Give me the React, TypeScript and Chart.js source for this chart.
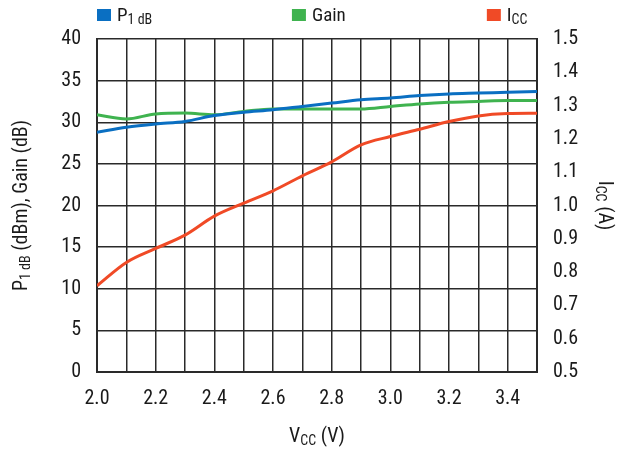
import React, { useEffect, useRef } from "react";
import { Chart, registerables } from "chart.js";

Chart.register(...registerables);

const VCC = [2.0, 2.1, 2.2, 2.3, 2.4, 2.5, 2.6, 2.7, 2.8, 2.9, 3.0, 3.1, 3.2, 3.3, 3.4, 3.5];
const P1DB = [28.8, 29.4, 29.8, 30.1, 30.8, 31.2, 31.5, 31.9, 32.3, 32.7, 32.9, 33.2, 33.4, 33.5, 33.6, 33.7];
const GAIN = [30.9, 30.4, 31.0, 31.1, 30.9, 31.3, 31.6, 31.6, 31.6, 31.6, 31.9, 32.2, 32.4, 32.5, 32.6, 32.6];
const ICC = [0.759, 0.829, 0.871, 0.911, 0.968, 1.007, 1.044, 1.089, 1.131, 1.182, 1.207, 1.229, 1.252, 1.269, 1.276, 1.277];

const FONT = '"Liberation Sans Narrow", "Roboto Condensed", "DejaVu Sans Condensed", "Liberation Sans", Arial, sans-serif';
const BLUE = "#0a6fc2";
const GREEN = "#3fb34f";
const RED = "#f04a26";
const TEXT = "#1a1a1a";
const GRID = "#2a2a2a";

type Part = { t: string; sub?: boolean };

function richWidth(ctx: CanvasRenderingContext2D, parts: Part[], size: number) {
  let w = 0;
  for (const p of parts) {
    ctx.font = `${p.sub ? Math.round(size * 0.72) : size}px ${FONT}`;
    w += ctx.measureText(p.t).width;
  }
  return w;
}

function drawRich(ctx: CanvasRenderingContext2D, parts: Part[], x: number, y: number, size: number, align: "left" | "center") {
  const w = richWidth(ctx, parts, size);
  let cx = align === "center" ? x - w / 2 : x;
  ctx.textBaseline = "middle";
  ctx.textAlign = "left";
  ctx.fillStyle = TEXT;
  for (const p of parts) {
    const s = p.sub ? Math.round(size * 0.72) : size;
    ctx.font = `${s}px ${FONT}`;
    ctx.fillText(p.t, cx, p.sub ? y + size * 0.22 : y);
    cx += ctx.measureText(p.t).width;
  }
}

const decorPlugin = {
  id: "decor",
  afterDraw(chart: any) {
    const ctx: CanvasRenderingContext2D = chart.ctx;
    const a = chart.chartArea;
    ctx.save();
    const items: { color: string; parts: Part[] }[] = [
      { color: BLUE, parts: [{ t: "P" }, { t: "1 dB", sub: true }] },
      { color: GREEN, parts: [{ t: "Gain" }] },
      { color: RED, parts: [{ t: "I" }, { t: "CC", sub: true }] },
    ];
    items.forEach((it, i) => {
      const x = a.left + i * (a.right - a.left) * 0.443;
      ctx.fillStyle = it.color;
      ctx.fillRect(x, 9, 14, 12);
      drawRich(ctx, it.parts, x + 20, 16, 19, "left");
    });
    const cy = (a.top + a.bottom) / 2;
    ctx.save();
    ctx.translate(22, cy);
    ctx.rotate(-Math.PI / 2);
    drawRich(ctx, [{ t: "P" }, { t: "1 dB", sub: true }, { t: " (dBm), Gain (dB)" }], 0, 0, 20, "center");
    ctx.restore();
    ctx.save();
    ctx.translate(604, cy);
    ctx.rotate(Math.PI / 2);
    drawRich(ctx, [{ t: "I" }, { t: "CC", sub: true }, { t: " (A)" }], 0, 0, 20, "center");
    ctx.restore();
    drawRich(ctx, [{ t: "V" }, { t: "CC", sub: true }, { t: " (V)" }], (a.left + a.right) / 2, 437, 20, "center");
    ctx.restore();
  },
};

export default function App() {
  const ref = useRef<HTMLCanvasElement>(null);
  useEffect(() => {
    document.body.style.margin = "0";
    const chart = new Chart(ref.current!, {
      type: "line",
      data: {
        datasets: [
          { label: "P1 dB", data: VCC.map((x, i) => ({ x, y: P1DB[i] })), borderColor: BLUE, yAxisID: "y" },
          { label: "Gain", data: VCC.map((x, i) => ({ x, y: GAIN[i] })), borderColor: GREEN, yAxisID: "y" },
          { label: "ICC", data: VCC.map((x, i) => ({ x, y: ICC[i] })), borderColor: RED, yAxisID: "y1" },
        ].map((d) => ({ ...d, borderWidth: 3, pointRadius: 0, fill: false, cubicInterpolationMode: "monotone" as const })),
      },
      options: {
        animation: false,
        responsive: false,
        layout: { padding: { top: 39, left: 0, right: 0, bottom: 0 } },
        plugins: { legend: { display: false }, tooltip: { enabled: false } },
        scales: {
          x: {
            type: "linear",
            min: 2.0,
            max: 3.5,
            afterFit: (s: any) => { s.height = 79; },
            ticks: {
              stepSize: 0.1,
              padding: 15,
              color: TEXT,
              font: { family: FONT, size: 20 },
              maxRotation: 0,
              autoSkip: false,
              callback: (v: any) => (Math.round(Number(v) * 10) % 2 === 0 ? Number(v).toFixed(1) : ""),
            },
            grid: { color: GRID, lineWidth: 1.5, drawTicks: false },
            border: { color: GRID, width: 2 },
          },
          y: {
            position: "left",
            min: 0,
            max: 40,
            afterFit: (s: any) => { s.width = 97; },
            ticks: { stepSize: 5, padding: 16, color: TEXT, font: { family: FONT, size: 20 } },
            grid: { color: GRID, lineWidth: 1.5, drawTicks: false },
            border: { color: GRID, width: 2 },
          },
          y1: {
            position: "right",
            min: 0.5,
            max: 1.5,
            afterFit: (s: any) => { s.width = 86; },
            ticks: {
              stepSize: 0.1,
              padding: 16,
              color: TEXT,
              font: { family: FONT, size: 20 },
              callback: (v: any) => Number(v).toFixed(1),
            },
            grid: { drawOnChartArea: false, drawTicks: false },
            border: { color: GRID, width: 2 },
          },
        },
      },
      plugins: [decorPlugin],
    });
    return () => chart.destroy();
  }, []);
  return <canvas ref={ref} width={623} height={451} style={{ display: "block" }} />;
}
